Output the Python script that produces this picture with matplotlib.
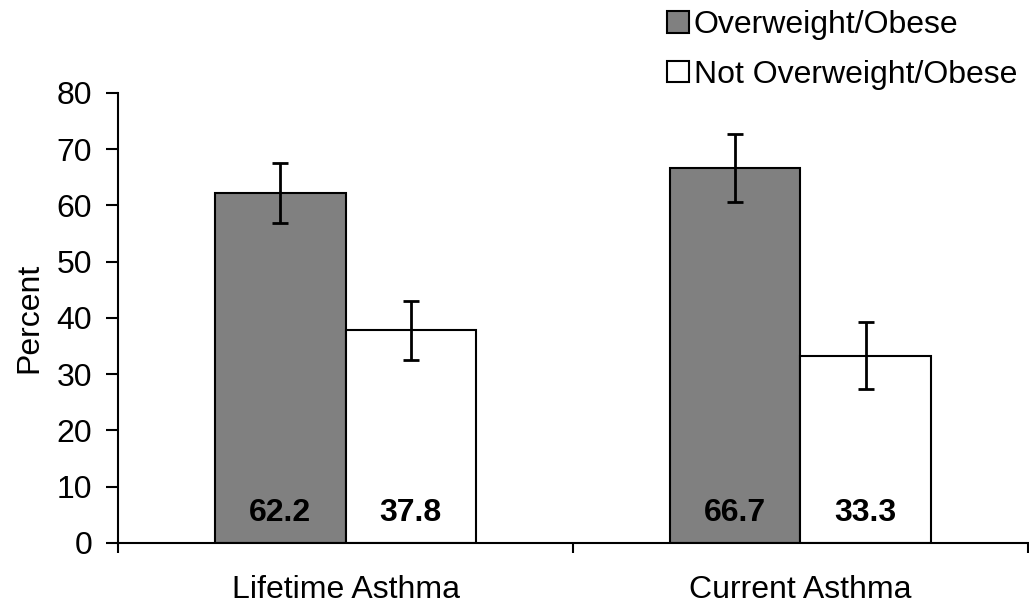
import numpy as np
import matplotlib
matplotlib.use("Agg")
import matplotlib.pyplot as plt

plt.rcParams['font.family'] = ['Liberation Sans', 'DejaVu Sans']

# data
categories = ['Lifetime Asthma', 'Current Asthma']
series_names = ['Overweight/Obese', 'Not Overweight/Obese']
overweight = [62.2, 66.7]
not_overweight = [37.8, 33.3]
# confidence interval bounds
ow_low = [56.8, 60.7]
ow_high = [67.5, 72.7]
not_low = [32.5, 27.3]
not_high = [43.0, 39.3]

fig = plt.figure(figsize=(10.29, 6.05), dpi=100)
ax = fig.add_axes([0.1147, 0.1025, 0.8843, 0.7438])

x = np.arange(len(categories))
w = 0.287

ow_err = [np.array(overweight) - np.array(ow_low), np.array(ow_high) - np.array(overweight)]
not_err = [np.array(not_overweight) - np.array(not_low), np.array(not_high) - np.array(not_overweight)]

ekw = dict(ecolor='black', elinewidth=2, capsize=5.8, capthick=2)
ax.bar(x - w / 2, overweight, w, color='#808080', edgecolor='black', linewidth=1.5,
       label=series_names[0], yerr=ow_err, error_kw=ekw)
ax.bar(x + w / 2, not_overweight, w, color='white', edgecolor='black', linewidth=1.5,
       label=series_names[1], yerr=not_err, error_kw=ekw)

for i in range(len(categories)):
    ax.text(x[i] - w / 2, 5.4, f'{overweight[i]:.1f}', ha='center', va='center',
            fontsize=23, fontweight='bold')
    ax.text(x[i] + w / 2, 5.4, f'{not_overweight[i]:.1f}', ha='center', va='center',
            fontsize=23, fontweight='bold')

ax.set_xlim(-0.5, 1.5)
ax.set_ylim(0, 80)
ax.set_yticks(np.arange(0, 81, 10))
ax.set_xticks(x)
ax.set_xticklabels(categories, fontsize=23)
ax.set_xticks([-0.5, 0.5, 1.5], minor=True)
ax.tick_params(axis='x', which='major', length=0, pad=23)
ax.tick_params(axis='x', which='minor', length=7.5, width=1.5, direction='out')
ax.tick_params(axis='y', length=9, width=1.5, direction='out', labelsize=23, pad=9.5)
ax.set_ylabel('Percent', fontsize=23, labelpad=9)

ax.spines['top'].set_visible(False)
ax.spines['right'].set_visible(False)
ax.spines['left'].set_linewidth(1.5)
ax.spines['bottom'].set_linewidth(1.5)

fig.legend(loc='upper left', bbox_to_anchor=(0.648, 0.983), frameon=False,
           fontsize=23, handlelength=0.69, handleheight=0.66, handletextpad=0.15,
           labelspacing=0.61, borderaxespad=0, borderpad=0)

fig.savefig('out.png', dpi=100)
